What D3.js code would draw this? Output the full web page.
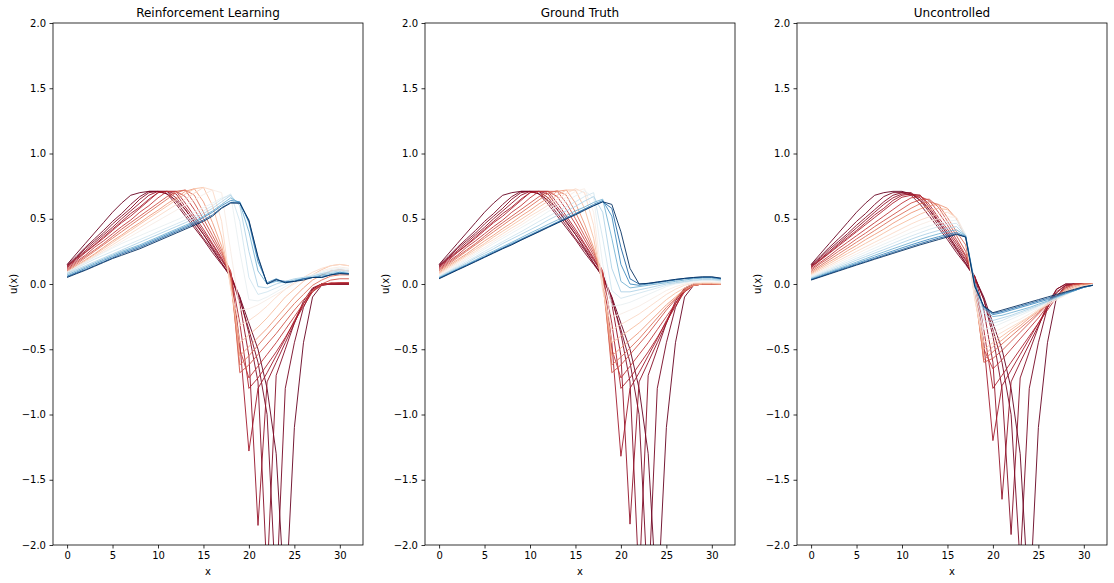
<!DOCTYPE html>
<html><head><meta charset="utf-8">
<script src="https://cdn.jsdelivr.net/npm/d3@7"></script>
<style>body{margin:0;background:#fff;} text{font-family:"DejaVu Sans",sans-serif;fill:#000;}</style>
</head><body><svg id="chart" width="1114" height="583"></svg>
<script>
const xValues = [0,1,2,3,4,5,6,7,8,9,10,11,12,13,14,15,16,17,18,19,20,21,22,23,24,25,26,27,28,29,30,31];
const timeSteps = [0,1,2,3,4,5,7,9,11,14,17,20,23,26,29,32,36,40,44,49];
const lastStep = 49;
const panelTitles = ["Reinforcement Learning","Ground Truth","Uncontrolled"];
const xTicks = [0,5,10,15,20,25,30];
const yTicks = [-2.0,-1.5,-1.0,-0.5,0.0,0.5,1.0,1.5,2.0];

const gtCurves = [
[0.15,0.23,0.31,0.39,0.47,0.55,0.62,0.68,0.70,0.71,0.71,0.69,0.64,0.57,0.48,0.38,0.27,0.16,0.05,-0.10,-0.30,-0.50,-0.80,-1.30,-2.50,-1.10,-0.45,-0.10,-0.01,0,0,0],
[0.145,0.21,0.28,0.345,0.41,0.48,0.54,0.61,0.67,0.71,0.71,0.69,0.61,0.52,0.43,0.34,0.24,0.15,0.06,-0.12,-0.35,-0.60,-1.00,-2.40,-0.80,-0.45,-0.18,-0.04,0,0,0,0],
[0.14,0.20,0.27,0.33,0.39,0.46,0.52,0.58,0.65,0.70,0.71,0.71,0.63,0.54,0.45,0.35,0.26,0.16,0.07,-0.10,-0.38,-0.75,-2.30,-0.70,-0.50,-0.30,-0.13,-0.03,0,0,0,0],
[0.135,0.195,0.255,0.315,0.375,0.435,0.50,0.56,0.62,0.68,0.71,0.71,0.66,0.57,0.47,0.38,0.28,0.18,0.08,-0.15,-0.55,-1.84,-0.75,-0.60,-0.45,-0.30,-0.15,-0.04,0,0,0,0],
[0.13,0.19,0.245,0.30,0.36,0.42,0.48,0.54,0.59,0.65,0.70,0.71,0.69,0.59,0.50,0.40,0.30,0.19,0.08,-0.45,-1.32,-0.80,-0.68,-0.55,-0.42,-0.28,-0.15,-0.05,-0.01,0,0,0],
[0.125,0.18,0.24,0.295,0.35,0.41,0.47,0.52,0.58,0.64,0.70,0.71,0.71,0.62,0.52,0.42,0.31,0.20,0.08,-0.30,-0.80,-0.72,-0.62,-0.52,-0.41,-0.29,-0.17,-0.06,-0.01,0,0,0],
[0.115,0.17,0.22,0.28,0.33,0.385,0.44,0.49,0.55,0.60,0.66,0.71,0.71,0.67,0.57,0.46,0.34,0.22,0.09,-0.50,-0.72,-0.63,-0.54,-0.45,-0.35,-0.25,-0.15,-0.06,-0.01,0,0,0],
[0.107,0.16,0.21,0.26,0.31,0.365,0.42,0.47,0.52,0.57,0.62,0.67,0.71,0.71,0.62,0.50,0.37,0.24,0.10,-0.68,-0.62,-0.54,-0.46,-0.38,-0.29,-0.20,-0.12,-0.05,-0.01,0,0,0],
[0.10,0.15,0.20,0.25,0.30,0.35,0.40,0.45,0.50,0.545,0.595,0.645,0.695,0.715,0.68,0.55,0.41,0.26,0.02,-0.62,-0.56,-0.49,-0.42,-0.34,-0.26,-0.18,-0.11,-0.05,-0.01,0,0,0],
[0.09,0.14,0.185,0.23,0.28,0.33,0.375,0.425,0.47,0.52,0.565,0.615,0.66,0.71,0.72,0.62,0.46,0.28,0.03,-0.55,-0.49,-0.43,-0.37,-0.30,-0.23,-0.16,-0.10,-0.04,-0.01,0,0,0],
[0.082,0.13,0.175,0.22,0.265,0.31,0.36,0.405,0.45,0.495,0.54,0.59,0.635,0.68,0.72,0.72,0.58,0.35,-0.02,-0.45,-0.40,-0.35,-0.30,-0.24,-0.18,-0.12,-0.07,-0.03,0,0.005,0.005,0],
[0.075,0.12,0.164,0.21,0.25,0.30,0.34,0.385,0.43,0.47,0.52,0.56,0.605,0.65,0.695,0.73,0.70,0.45,-0.05,-0.35,-0.31,-0.27,-0.23,-0.18,-0.13,-0.08,-0.04,-0.01,0.005,0.01,0.01,0.005],
[0.068,0.11,0.153,0.196,0.24,0.28,0.325,0.367,0.41,0.45,0.495,0.54,0.58,0.62,0.665,0.71,0.73,0.55,0.0,-0.25,-0.23,-0.20,-0.17,-0.13,-0.09,-0.05,-0.02,0.0,0.01,0.015,0.015,0.01],
[0.062,0.10,0.144,0.185,0.226,0.267,0.31,0.35,0.39,0.43,0.47,0.51,0.555,0.595,0.635,0.675,0.715,0.66,0.15,-0.17,-0.16,-0.14,-0.11,-0.08,-0.05,-0.02,0.0,0.01,0.02,0.025,0.025,0.02],
[0.057,0.095,0.134,0.172,0.21,0.25,0.287,0.325,0.363,0.40,0.44,0.48,0.517,0.555,0.593,0.63,0.67,0.70,0.35,-0.05,-0.11,-0.09,-0.07,-0.05,-0.03,-0.01,0.005,0.015,0.025,0.03,0.03,0.025],
[0.053,0.09,0.125,0.16,0.20,0.235,0.27,0.31,0.345,0.38,0.415,0.45,0.49,0.525,0.56,0.595,0.635,0.67,0.55,0.12,-0.06,-0.06,-0.045,-0.03,-0.015,0.0,0.01,0.02,0.03,0.035,0.035,0.03],
[0.049,0.083,0.117,0.15,0.185,0.22,0.253,0.287,0.32,0.355,0.39,0.423,0.457,0.49,0.525,0.56,0.59,0.625,0.65,0.35,0.02,-0.03,-0.02,-0.01,0.0,0.01,0.02,0.03,0.04,0.045,0.045,0.035],
[0.046,0.079,0.112,0.145,0.178,0.21,0.245,0.277,0.31,0.343,0.376,0.41,0.44,0.475,0.51,0.54,0.575,0.61,0.64,0.52,0.15,0.0,-0.01,0.0,0.01,0.02,0.03,0.04,0.045,0.05,0.05,0.04],
[0.043,0.076,0.109,0.141,0.174,0.207,0.24,0.273,0.305,0.338,0.37,0.404,0.437,0.47,0.50,0.535,0.57,0.60,0.63,0.58,0.28,0.04,0.0,0.005,0.015,0.025,0.035,0.043,0.05,0.053,0.053,0.043],
[0.04,0.073,0.106,0.138,0.171,0.204,0.237,0.27,0.30,0.335,0.368,0.40,0.434,0.466,0.50,0.53,0.565,0.60,0.63,0.61,0.40,0.12,0.0,0.005,0.015,0.025,0.035,0.043,0.05,0.055,0.055,0.045]
];

const rlCurves = [
[0.15,0.23,0.31,0.39,0.47,0.55,0.62,0.68,0.70,0.71,0.71,0.69,0.64,0.57,0.48,0.38,0.27,0.16,0.05,-0.10,-0.30,-0.50,-0.80,-1.30,-2.50,-1.10,-0.45,-0.10,-0.01,0,0,0],
[0.145,0.21,0.28,0.345,0.41,0.48,0.54,0.61,0.67,0.71,0.71,0.69,0.61,0.52,0.43,0.34,0.24,0.15,0.06,-0.12,-0.35,-0.60,-1.00,-2.40,-0.80,-0.45,-0.18,-0.04,0,0,0,0],
[0.14,0.20,0.27,0.33,0.39,0.46,0.52,0.58,0.65,0.70,0.71,0.71,0.63,0.54,0.45,0.35,0.26,0.16,0.07,-0.10,-0.38,-0.75,-2.25,-0.70,-0.50,-0.30,-0.13,-0.03,0,0,0,0],
[0.135,0.195,0.255,0.315,0.375,0.435,0.50,0.56,0.62,0.68,0.71,0.71,0.66,0.57,0.47,0.38,0.28,0.18,0.08,-0.15,-0.55,-1.85,-0.75,-0.60,-0.45,-0.30,-0.15,-0.04,0,0,0,0],
[0.13,0.19,0.245,0.30,0.36,0.42,0.48,0.54,0.59,0.65,0.70,0.71,0.69,0.59,0.50,0.40,0.30,0.19,0.08,-0.45,-1.28,-0.80,-0.68,-0.55,-0.42,-0.28,-0.15,-0.05,-0.01,0,0,0],
[0.125,0.18,0.24,0.295,0.35,0.41,0.47,0.52,0.58,0.64,0.70,0.71,0.71,0.62,0.52,0.42,0.31,0.20,0.08,-0.30,-0.80,-0.72,-0.62,-0.52,-0.41,-0.29,-0.17,-0.06,0,0,0.01,0.01],
[0.115,0.17,0.22,0.28,0.33,0.385,0.44,0.49,0.55,0.60,0.66,0.71,0.71,0.67,0.57,0.46,0.34,0.22,0.09,-0.50,-0.72,-0.63,-0.54,-0.45,-0.35,-0.25,-0.15,-0.06,-0.01,0.01,0.01,0.01],
[0.107,0.16,0.21,0.26,0.31,0.365,0.42,0.47,0.52,0.57,0.62,0.67,0.71,0.72,0.62,0.50,0.37,0.24,0.10,-0.68,-0.62,-0.54,-0.46,-0.38,-0.29,-0.20,-0.12,-0.05,0.0,0.03,0.04,0.04],
[0.10,0.15,0.20,0.25,0.30,0.35,0.40,0.45,0.50,0.55,0.60,0.65,0.70,0.72,0.68,0.55,0.41,0.26,0.03,-0.62,-0.55,-0.47,-0.39,-0.31,-0.23,-0.15,-0.08,-0.01,0.03,0.06,0.07,0.07],
[0.09,0.14,0.185,0.23,0.28,0.33,0.375,0.425,0.47,0.52,0.565,0.615,0.66,0.71,0.73,0.63,0.47,0.29,0.03,-0.55,-0.48,-0.41,-0.34,-0.26,-0.18,-0.10,-0.03,0.03,0.07,0.10,0.11,0.10],
[0.085,0.13,0.177,0.224,0.27,0.317,0.364,0.41,0.457,0.504,0.55,0.597,0.644,0.69,0.73,0.74,0.60,0.36,-0.02,-0.45,-0.39,-0.33,-0.26,-0.18,-0.10,-0.04,0.02,0.07,0.11,0.14,0.15,0.14],
[0.08,0.124,0.168,0.212,0.256,0.30,0.344,0.388,0.432,0.476,0.52,0.564,0.608,0.652,0.696,0.74,0.72,0.48,-0.04,-0.32,-0.28,-0.23,-0.17,-0.10,-0.04,0.01,0.05,0.09,0.12,0.14,0.15,0.14],
[0.085,0.125,0.165,0.205,0.245,0.285,0.325,0.365,0.405,0.445,0.485,0.525,0.565,0.605,0.645,0.685,0.72,0.70,0.25,-0.20,-0.19,-0.16,-0.12,-0.08,-0.04,0.0,0.04,0.07,0.10,0.12,0.13,0.12],
[0.09,0.13,0.17,0.205,0.24,0.275,0.31,0.34,0.37,0.40,0.43,0.46,0.49,0.52,0.55,0.585,0.62,0.66,0.68,0.25,-0.12,-0.13,-0.10,-0.06,-0.02,0.02,0.05,0.07,0.09,0.11,0.12,0.11],
[0.085,0.12,0.155,0.19,0.22,0.25,0.28,0.31,0.34,0.37,0.40,0.43,0.46,0.49,0.52,0.56,0.60,0.65,0.69,0.48,0.05,-0.08,-0.06,-0.03,0.0,0.03,0.05,0.06,0.08,0.10,0.11,0.10],
[0.08,0.11,0.14,0.17,0.20,0.23,0.26,0.29,0.32,0.35,0.38,0.41,0.44,0.47,0.50,0.54,0.58,0.63,0.68,0.60,0.25,-0.02,-0.03,0.0,0.02,0.04,0.05,0.06,0.08,0.09,0.10,0.09],
[0.07,0.10,0.13,0.16,0.19,0.22,0.25,0.275,0.30,0.33,0.36,0.39,0.42,0.45,0.48,0.52,0.56,0.61,0.66,0.62,0.40,0.10,0.0,0.02,0.01,0.03,0.04,0.05,0.07,0.08,0.09,0.08],
[0.06,0.09,0.12,0.15,0.18,0.21,0.24,0.265,0.29,0.32,0.35,0.38,0.41,0.44,0.47,0.51,0.55,0.60,0.64,0.63,0.47,0.17,0.01,0.04,0.01,0.02,0.04,0.05,0.06,0.07,0.09,0.08],
[0.055,0.083,0.11,0.14,0.17,0.20,0.23,0.255,0.28,0.31,0.34,0.37,0.40,0.43,0.46,0.49,0.53,0.585,0.625,0.62,0.48,0.20,0.0,0.03,0.02,0.02,0.04,0.05,0.05,0.07,0.08,0.08],
[0.05,0.078,0.105,0.135,0.165,0.195,0.22,0.245,0.27,0.30,0.33,0.36,0.39,0.42,0.45,0.48,0.52,0.58,0.62,0.62,0.49,0.21,0.0,0.035,0.01,0.02,0.03,0.05,0.05,0.07,0.08,0.075]
];

const ucCurves = [
[0.15,0.23,0.31,0.39,0.47,0.55,0.62,0.68,0.70,0.71,0.71,0.69,0.64,0.57,0.48,0.38,0.27,0.16,0.05,-0.10,-0.30,-0.50,-0.80,-1.30,-2.50,-1.10,-0.45,-0.10,-0.01,0,0,0],
[0.145,0.21,0.28,0.345,0.41,0.48,0.54,0.61,0.67,0.70,0.70,0.68,0.61,0.52,0.43,0.34,0.24,0.15,0.05,-0.12,-0.35,-0.60,-1.00,-2.15,-0.80,-0.45,-0.18,-0.04,0,0,0,0],
[0.14,0.20,0.265,0.325,0.385,0.45,0.51,0.57,0.63,0.68,0.70,0.70,0.64,0.55,0.45,0.36,0.26,0.16,0.06,-0.12,-0.40,-0.80,-1.92,-0.72,-0.52,-0.33,-0.15,-0.04,0,0,0,0],
[0.135,0.19,0.25,0.31,0.37,0.43,0.49,0.55,0.61,0.66,0.69,0.69,0.66,0.57,0.47,0.38,0.28,0.18,0.06,-0.20,-0.60,-1.65,-0.75,-0.60,-0.46,-0.32,-0.18,-0.06,-0.01,0,0,0],
[0.13,0.185,0.24,0.30,0.355,0.41,0.47,0.53,0.58,0.64,0.68,0.69,0.68,0.59,0.49,0.40,0.30,0.19,0.05,-0.45,-1.20,-0.78,-0.66,-0.54,-0.42,-0.30,-0.18,-0.07,-0.01,0,0,0],
[0.125,0.18,0.235,0.29,0.345,0.40,0.455,0.51,0.565,0.62,0.665,0.68,0.68,0.61,0.51,0.42,0.32,0.21,0.04,-0.35,-0.80,-0.70,-0.60,-0.50,-0.40,-0.30,-0.20,-0.10,-0.02,0,0,0],
[0.115,0.165,0.215,0.27,0.32,0.37,0.42,0.47,0.52,0.57,0.62,0.66,0.67,0.64,0.55,0.45,0.34,0.22,0.03,-0.50,-0.65,-0.58,-0.50,-0.42,-0.34,-0.26,-0.17,-0.09,-0.03,0,0,0],
[0.105,0.155,0.20,0.25,0.295,0.345,0.39,0.44,0.485,0.53,0.575,0.62,0.645,0.65,0.59,0.48,0.37,0.25,0.0,-0.60,-0.57,-0.51,-0.44,-0.37,-0.30,-0.23,-0.16,-0.09,-0.03,0,0,0],
[0.095,0.14,0.185,0.23,0.275,0.32,0.365,0.41,0.455,0.50,0.54,0.58,0.615,0.63,0.61,0.51,0.40,0.30,-0.05,-0.58,-0.52,-0.46,-0.40,-0.34,-0.28,-0.22,-0.15,-0.09,-0.04,-0.01,0,0],
[0.085,0.128,0.17,0.21,0.255,0.295,0.34,0.38,0.42,0.465,0.505,0.545,0.575,0.60,0.61,0.58,0.50,0.36,-0.05,-0.55,-0.48,-0.43,-0.37,-0.32,-0.26,-0.21,-0.15,-0.10,-0.05,-0.02,0,0],
[0.078,0.117,0.156,0.195,0.234,0.273,0.312,0.35,0.39,0.43,0.465,0.50,0.535,0.565,0.58,0.57,0.50,0.37,-0.10,-0.50,-0.45,-0.40,-0.35,-0.30,-0.25,-0.20,-0.15,-0.10,-0.06,-0.03,-0.01,0],
[0.07,0.106,0.142,0.178,0.214,0.25,0.285,0.32,0.355,0.39,0.425,0.46,0.49,0.515,0.54,0.55,0.51,0.37,-0.12,-0.45,-0.41,-0.37,-0.33,-0.29,-0.25,-0.20,-0.16,-0.12,-0.08,-0.05,-0.02,0],
[0.062,0.096,0.13,0.164,0.197,0.23,0.264,0.297,0.33,0.36,0.393,0.425,0.455,0.48,0.50,0.515,0.51,0.38,-0.10,-0.40,-0.37,-0.34,-0.30,-0.27,-0.23,-0.19,-0.155,-0.12,-0.085,-0.05,-0.025,-0.005],
[0.056,0.088,0.12,0.15,0.182,0.213,0.244,0.275,0.305,0.335,0.365,0.395,0.42,0.445,0.465,0.48,0.49,0.38,-0.05,-0.35,-0.33,-0.30,-0.27,-0.24,-0.21,-0.18,-0.145,-0.11,-0.08,-0.05,-0.025,-0.005],
[0.05,0.08,0.11,0.14,0.168,0.197,0.226,0.255,0.283,0.312,0.34,0.367,0.393,0.418,0.44,0.458,0.465,0.375,-0.02,-0.28,-0.30,-0.28,-0.25,-0.225,-0.20,-0.17,-0.14,-0.11,-0.08,-0.05,-0.025,-0.005],
[0.045,0.073,0.10,0.128,0.155,0.183,0.21,0.237,0.263,0.29,0.317,0.343,0.368,0.39,0.41,0.428,0.44,0.37,0.0,-0.22,-0.28,-0.26,-0.24,-0.215,-0.19,-0.165,-0.135,-0.105,-0.075,-0.05,-0.025,-0.008],
[0.04,0.066,0.092,0.118,0.143,0.168,0.194,0.22,0.245,0.27,0.294,0.318,0.342,0.364,0.384,0.402,0.415,0.37,0.01,-0.19,-0.25,-0.24,-0.22,-0.20,-0.18,-0.155,-0.13,-0.10,-0.075,-0.05,-0.025,-0.01],
[0.036,0.06,0.085,0.11,0.134,0.158,0.182,0.206,0.23,0.253,0.277,0.30,0.322,0.343,0.362,0.38,0.395,0.365,0.0,-0.18,-0.235,-0.22,-0.20,-0.18,-0.16,-0.14,-0.12,-0.095,-0.07,-0.05,-0.025,-0.01],
[0.033,0.056,0.08,0.104,0.127,0.15,0.173,0.196,0.219,0.242,0.264,0.287,0.309,0.33,0.35,0.368,0.385,0.36,-0.01,-0.175,-0.225,-0.21,-0.19,-0.17,-0.15,-0.13,-0.11,-0.09,-0.065,-0.045,-0.025,-0.01],
[0.03,0.053,0.076,0.099,0.122,0.145,0.167,0.19,0.212,0.234,0.256,0.278,0.30,0.32,0.34,0.36,0.38,0.36,-0.02,-0.17,-0.22,-0.20,-0.18,-0.16,-0.14,-0.12,-0.10,-0.08,-0.06,-0.04,-0.02,-0.01]
];

const panelData = [rlCurves, gtCurves, ucCurves];

const svg = d3.select("#chart");
const axLefts = [53, 425, 797];
const axW = 310, axTop = 23, axH = 522;

panelData.forEach((curves, p) => {
  const left = axLefts[p];
  const x = d3.scaleLinear().domain([-1.55, 32.55]).range([left, left + axW]);
  const y = d3.scaleLinear().domain([-2, 2]).range([axTop + axH, axTop]);
  const g = svg.append("g");
  const clipId = "clip" + p;
  svg.append("clipPath").attr("id", clipId).append("rect")
    .attr("x", left).attr("y", axTop).attr("width", axW).attr("height", axH);
  const line = d3.line().x((d, i) => x(xValues[i])).y(d => y(d));
  const lg = g.append("g").attr("clip-path", `url(#${clipId})`);
  curves.forEach((c, k) => {
    lg.append("path").attr("d", line(c)).attr("fill", "none")
      .attr("stroke", d3.interpolateRdBu(timeSteps[k] / lastStep))
      .attr("stroke-width", 0.9).attr("stroke-linejoin", "round");
  });
  const xa = g.append("g").attr("transform", `translate(0,${axTop + axH})`)
    .call(d3.axisBottom(x).tickValues(xTicks).tickSize(3.5).tickPadding(3.5).tickFormat(d3.format("d")));
  const ya = g.append("g").attr("transform", `translate(${left},0)`)
    .call(d3.axisLeft(y).tickValues(yTicks).tickSize(3.5).tickPadding(3.5).tickFormat(d3.format(".1f")));
  [xa, ya].forEach(a => {
    a.select(".domain").remove();
    a.selectAll("line").attr("stroke", "#000").attr("stroke-width", 0.8);
    a.selectAll("text").attr("font-size", 10).attr("font-family", "DejaVu Sans").attr("fill", "#000");
  });
  g.append("rect").attr("x", left).attr("y", axTop).attr("width", axW).attr("height", axH)
    .attr("fill", "none").attr("stroke", "#000").attr("stroke-width", 0.8);
  g.append("text").attr("x", left + axW / 2).attr("y", axTop - 6).attr("text-anchor", "middle")
    .attr("font-size", 12).text(panelTitles[p]);
  g.append("text").attr("x", left + axW / 2).attr("y", 575).attr("text-anchor", "middle")
    .attr("font-size", 10).text("x");
  g.append("text").attr("transform", `translate(${left - 36},${axTop + axH / 2}) rotate(-90)`)
    .attr("text-anchor", "middle").attr("font-size", 10).text("u(x)");
});
</script></body></html>
